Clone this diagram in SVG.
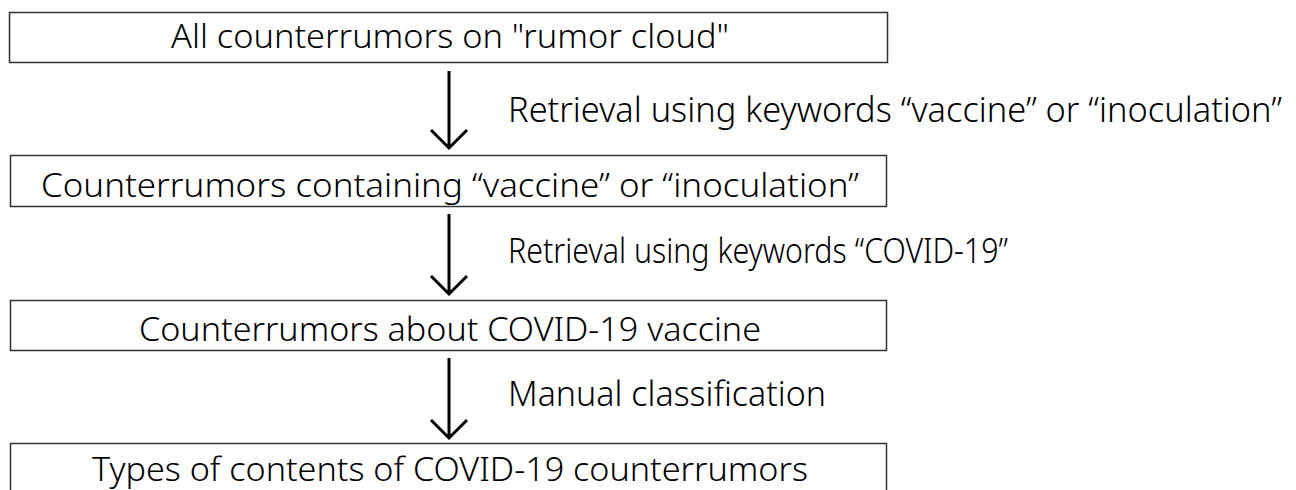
<svg xmlns="http://www.w3.org/2000/svg" width="1296" height="490" viewBox="0 0 1296 490">
<style>
.box{fill:#ffffff;stroke:#333333;stroke-width:1.5}
.bt{font-family:"Noto Sans","Open Sans","DejaVu Sans",sans-serif;font-size:33px;font-weight:300;fill:#000000;text-anchor:middle}
.lb{font-family:"Noto Sans","Open Sans","DejaVu Sans",sans-serif;font-size:34px;font-weight:300;fill:#000000}
.arr{fill:none;stroke:#000000;stroke-width:3;stroke-linecap:butt;stroke-linejoin:miter}
</style>
<rect width="1296" height="490" fill="#ffffff"/>
<g id="node1">
<rect class="box" x="9.5" y="12.5" width="878" height="50"/>
<text class="bt" x="450" y="48" textLength="558" lengthAdjust="spacingAndGlyphs">All counterrumors on "rumor cloud"</text>
</g>
<g id="node2">
<rect class="box" x="10.5" y="155.5" width="876" height="51"/>
<text class="bt" x="450" y="197" textLength="818" lengthAdjust="spacingAndGlyphs">Counterrumors containing “vaccine” or “inoculation”</text>
</g>
<g id="node3">
<rect class="box" x="10.5" y="300.5" width="876" height="50"/>
<text class="bt" x="450" y="341" textLength="622" lengthAdjust="spacingAndGlyphs">Counterrumors about COVID-19 vaccine</text>
</g>
<g id="node4">
<rect class="box" x="10.5" y="443.5" width="876" height="60"/>
<text class="bt" x="450" y="481" textLength="716" lengthAdjust="spacingAndGlyphs">Types of contents of COVID-19 counterrumors</text>
</g>
<g id="connectors">
<path class="arr" d="M449 71 V148 M431 130 L449 148 L467 130"/>
<path class="arr" d="M449 214 V294 M431 276 L449 294 L467 276"/>
<path class="arr" d="M449 358 V438 M431 420 L449 438 L467 420"/>
<text class="lb" x="508" y="122" textLength="774" lengthAdjust="spacingAndGlyphs">Retrieval using keywords “vaccine” or “inoculation”</text>
<text class="lb" x="508" y="263" textLength="500" lengthAdjust="spacingAndGlyphs">Retrieval using keywords “COVID-19”</text>
<text class="lb" x="508" y="406" textLength="318" lengthAdjust="spacingAndGlyphs">Manual classification</text>
</g>
</svg>
